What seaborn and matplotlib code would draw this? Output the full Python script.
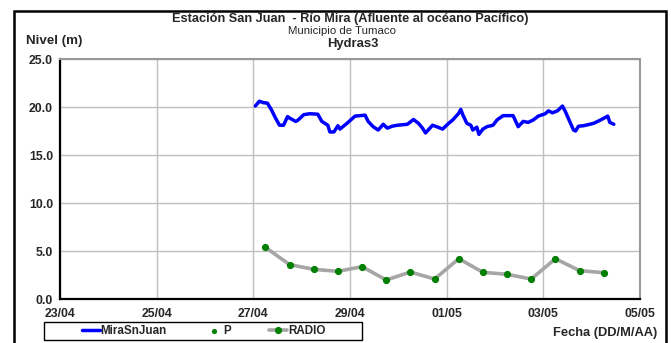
"""Nivel del río Mira en la estación San Juan (Hydras3) con lecturas de radio."""
import matplotlib
matplotlib.use("Agg")
import matplotlib.pyplot as plt
import matplotlib.patches as mpatches
import pandas as pd
import seaborn as sns

# serie continua del sensor (MiraSnJuan)
mira_times = [
    "2013-04-27 01:00", "2013-04-27 03:00", "2013-04-27 05:00", "2013-04-27 07:00",
    "2013-04-27 09:00", "2013-04-27 11:00", "2013-04-27 13:00", "2013-04-27 15:00",
    "2013-04-27 17:00", "2013-04-27 18:00", "2013-04-27 21:00", "2013-04-27 22:00",
    "2013-04-28 01:00", "2013-04-28 04:00", "2013-04-28 08:00", "2013-04-28 10:00",
    "2013-04-28 13:00", "2013-04-28 14:00", "2013-04-28 16:00", "2013-04-28 18:00",
    "2013-04-28 19:00", "2013-04-28 22:30", "2013-04-29 02:30", "2013-04-29 07:30",
    "2013-04-29 09:00", "2013-04-29 11:30", "2013-04-29 14:00", "2013-04-29 16:30",
    "2013-04-29 18:30", "2013-04-29 21:00", "2013-04-29 23:30", "2013-04-30 04:30",
    "2013-04-30 07:30", "2013-04-30 10:00", "2013-04-30 12:00", "2013-04-30 13:30",
    "2013-04-30 17:00", "2013-04-30 19:00", "2013-04-30 22:00", "2013-05-01 01:00",
    "2013-05-01 03:00", "2013-05-01 06:00", "2013-05-01 07:00", "2013-05-01 08:00",
    "2013-05-01 10:00", "2013-05-01 12:00", "2013-05-01 13:00", "2013-05-01 15:00",
    "2013-05-01 16:00", "2013-05-01 18:00", "2013-05-01 20:00", "2013-05-01 23:00",
    "2013-05-02 01:00", "2013-05-02 04:00", "2013-05-02 09:00", "2013-05-02 11:30",
    "2013-05-02 14:00", "2013-05-02 16:30", "2013-05-02 19:00", "2013-05-02 21:30",
    "2013-05-03 01:00", "2013-05-03 02:30", "2013-05-03 04:30", "2013-05-03 07:00",
    "2013-05-03 09:30", "2013-05-03 11:00", "2013-05-03 13:30", "2013-05-03 15:00",
    "2013-05-03 16:00", "2013-05-03 17:30", "2013-05-03 20:00", "2013-05-04 01:00",
    "2013-05-04 04:00", "2013-05-04 08:00", "2013-05-04 09:00", "2013-05-04 11:00",
]
mira_level = [
    20.1, 20.6, 20.45, 20.4, 19.7, 18.85, 18.1, 18.1, 19.0, 18.85, 18.5, 18.6,
    19.2, 19.3, 19.25, 18.5, 18.1, 17.4, 17.4, 18.05, 17.7, 18.3, 19.05, 19.15,
    18.5, 17.95, 17.6, 18.2, 17.8, 18.0, 18.1, 18.2, 18.7, 18.3, 17.8, 17.3,
    18.1, 17.95, 17.7, 18.3, 18.65, 19.35, 19.75, 19.2, 18.3, 18.1, 17.6, 17.9,
    17.15, 17.7, 17.95, 18.1, 18.65, 19.1, 19.1, 17.95, 18.5, 18.4, 18.65, 19.05,
    19.3, 19.6, 19.4, 19.6, 20.1, 19.5, 18.3, 17.6, 17.5, 18.0, 18.05, 18.3,
    18.6, 19.05, 18.4, 18.2,
]

# lecturas por radio, dos al día
radio_times = [
    "2013-04-27 06:00", "2013-04-27 18:00", "2013-04-28 06:00", "2013-04-28 18:00",
    "2013-04-29 06:00", "2013-04-29 18:00", "2013-04-30 06:00", "2013-04-30 18:00",
    "2013-05-01 06:00", "2013-05-01 18:00", "2013-05-02 06:00", "2013-05-02 18:00",
    "2013-05-03 06:00", "2013-05-03 18:00", "2013-05-04 06:00",
]
radio_level = [5.38, 3.58, 3.09, 2.88, 3.37, 1.98, 2.81, 2.08, 4.2, 2.78, 2.57, 2.08, 4.2, 2.95, 2.74]

x_ticks = ["2013-04-23", "2013-04-25", "2013-04-27", "2013-04-29", "2013-05-01", "2013-05-03", "2013-05-05"]
y_ticks = [0, 5, 10, 15, 20, 25]

mira = pd.DataFrame({"fecha": pd.to_datetime(mira_times), "nivel": mira_level})
radio = pd.DataFrame({"fecha": pd.to_datetime(radio_times), "nivel": radio_level})
ticks = pd.to_datetime(x_ticks)

sns.set_theme(style="white")
plt.rcParams["font.family"] = ["Liberation Sans", "DejaVu Sans"]

W, H = 671, 343
fig = plt.figure(figsize=(W / 100, H / 100), dpi=100)
ax = fig.add_axes([60 / W, 1 - 299 / H, 580 / W, 240 / H])

sns.lineplot(data=mira, x="fecha", y="nivel", ax=ax, color="#0000ff", linewidth=2.5, label="MiraSnJuan")
sns.scatterplot(data=radio, x="fecha", y="nivel", ax=ax, color="#008000", s=14, linewidth=0,
                label="P", zorder=4)
sns.lineplot(data=radio, x="fecha", y="nivel", ax=ax, color="#a6a6a6", linewidth=2.6,
             marker="o", markersize=4.4, markerfacecolor="#008000", markeredgecolor="#008000",
             label="RADIO", zorder=3)

ax.set_xlim(ticks[0], ticks[-1])
ax.set_ylim(0, 25)
ax.set_xticks(ticks)
ax.set_xticklabels([t.strftime("%d/%m") for t in ticks], fontsize=8.8, fontweight="bold")
ax.set_yticks(y_ticks)
ax.set_yticklabels([f"{v:.1f}" for v in y_ticks], fontsize=8.8, fontweight="bold")
ax.set_xlabel("")
ax.set_ylabel("")
ax.grid(True, color="#c0c0c0", linewidth=1.0)
ax.set_axisbelow(True)
ax.tick_params(axis="both", direction="out", length=4, width=1, color="black", pad=1)
ax.tick_params(axis="x", direction="inout", length=5, pad=4)

for side in ["left", "bottom"]:
    ax.spines[side].set_color("black")
    ax.spines[side].set_linewidth(1.6)
for side in ["top", "right"]:
    ax.spines[side].set_color("#999999")
    ax.spines[side].set_linewidth(1.5)

handles, labels = ax.get_legend_handles_labels()
ax.get_legend().remove()
leg = fig.legend(handles, labels, loc="center left", bbox_to_anchor=(82 / W, 1 - 331 / H),
                 ncol=3, fontsize=8.4, frameon=False, handlelength=1.55, columnspacing=3.26,
                 handletextpad=0.05, borderpad=0, borderaxespad=0)
for t in leg.get_texts():
    t.set_fontweight("bold")
# recuadro de la leyenda
fig.patches.append(mpatches.Rectangle((44 / W, 1 - 340 / H), 318 / W, 18 / H,
                                      transform=fig.transFigure, fill=False,
                                      edgecolor="black", linewidth=1.0))

fig.text(350 / W, 1 - 19 / H, "Estación San Juan  - Río Mira (Afluente al océano Pacífico)",
         ha="center", va="center", fontsize=9.2, fontweight="bold")
fig.text(342 / W, 1 - 31.5 / H, "Municipio de Tumaco", ha="center", va="center", fontsize=8.2)
fig.text(353 / W, 1 - 44 / H, "Hydras3", ha="center", va="center", fontsize=9.4, fontweight="bold")
fig.text(26 / W, 1 - 41 / H, "Nivel (m)", ha="left", va="center", fontsize=9.6, fontweight="bold")
fig.text(657 / W, 1 - 333 / H, "Fecha (DD/M/AA)", ha="right", va="center", fontsize=9.3,
         fontweight="bold")

# marco exterior del gráfico
fig.patches.append(mpatches.Rectangle((14 / W, -0.05), 652 / W, 1.05 - 11 / H,
                                      transform=fig.transFigure, fill=False,
                                      edgecolor="black", linewidth=1.8))

fig.savefig("out.png", dpi=100)
